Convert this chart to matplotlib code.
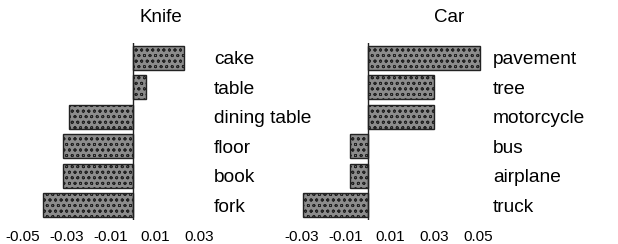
import matplotlib.pyplot as plt
import matplotlib as mpl

plt.rcParams['font.family'] = ['Liberation Sans', 'DejaVu Sans']
mpl.rcParams['hatch.color'] = '#e8e8e8'
mpl.rcParams['hatch.linewidth'] = 0.6

knife_labels = ["cake", "table", "dining table", "floor", "book", "fork"]
knife_values = [0.023, 0.006, -0.029, -0.032, -0.032, -0.041]
knife_ticks = [-0.05, -0.03, -0.01, 0.01, 0.03]

car_labels = ["pavement", "tree", "motorcycle", "bus", "airplane", "truck"]
car_values = [0.051, 0.030, 0.030, -0.008, -0.008, -0.0295]
car_ticks = [-0.03, -0.01, 0.01, 0.03, 0.05]

W, H = 618, 244
fig = plt.figure(figsize=(W / 100, H / 100), dpi=100)

bottom = 1 - 220 / H
height = (220 - 43) / H


def panel(left_px, right_px, xlim, labels, values, ticks, title, title_px):
    ax = fig.add_axes([left_px / W, bottom, (right_px - left_px) / W, height])
    ax.patch.set_visible(False)
    ypos = list(range(len(labels)))[::-1]
    ax.barh(ypos, values, height=0.8, color='#8c8c8c', edgecolor='#222222',
            linewidth=1.0, hatch='ooo')
    ax.axvline(0, color='#222222', linewidth=1.0)
    ax.set_xlim(*xlim)
    ax.set_ylim(-0.5, len(labels) - 0.5)
    ax.set_xticks(ticks)
    ax.set_xticklabels([f"{t:.2f}" for t in ticks], fontsize=11)
    ax.set_yticks(ypos)
    ax.set_yticklabels(labels, fontsize=13.8)
    ax.yaxis.tick_right()
    ax.tick_params(axis='y', length=0, pad=3)
    ax.tick_params(axis='x', length=0, pad=7)
    for s in ax.spines.values():
        s.set_visible(False)
    fig.text(title_px / W, 1 - 18 / H, title, fontsize=13.5,
             ha='center', va='center')
    return ax


panel(12, 210, (-0.055, 0.035), knife_labels, knife_values, knife_ticks, "Knife", 161)
panel(291, 489, (-0.035, 0.055), car_labels, car_values, car_ticks, "Car", 449)

fig.savefig("out.png", dpi=100)
